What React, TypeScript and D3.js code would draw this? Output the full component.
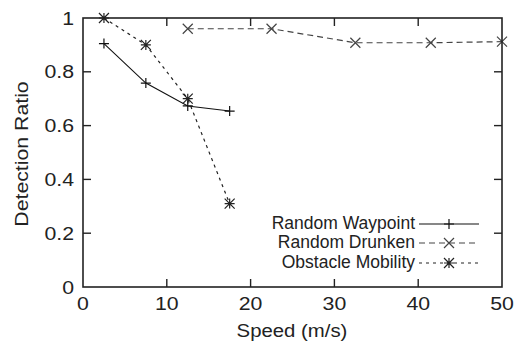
import React from "react";
import * as d3 from "d3";

const waypointX = [2.5, 7.5, 12.5, 17.5];
const waypointY = [0.905, 0.758, 0.673, 0.654];
const drunkenX = [12.5, 22.5, 32.5, 41.5, 50];
const drunkenY = [0.96, 0.96, 0.908, 0.908, 0.912];
const obstacleX = [2.5, 7.5, 12.5, 17.5];
const obstacleY = [1.0, 0.9, 0.7, 0.31];
const xTicks = [0, 10, 20, 30, 40, 50];
const yTicks = [0, 0.2, 0.4, 0.6, 0.8, 1];
const seriesNames = ["Random Waypoint", "Random Drunken", "Obstacle Mobility"];

const W = 516, H = 345;
const L = 83, R = 502, T = 18, B = 287;
const FONT = "Liberation Sans, Arial, Helvetica, sans-serif";

function Marker({ kind, x, y, color }: { kind: string; x: number; y: number; color: string }) {
  const s = 5;
  const plus = `M${x - s},${y}H${x + s}M${x},${y - s}V${y + s}`;
  const cross = `M${x - s},${y - s}L${x + s},${y + s}M${x - s},${y + s}L${x + s},${y - s}`;
  let d = "";
  if (kind === "plus") d = plus;
  else if (kind === "cross") d = cross;
  else d = plus + cross;
  return <path d={d} stroke={color} strokeWidth={1.2} fill="none" />;
}

function T2({ x, y, sx, size, anchor, children }: { x: number; y: number; sx: number; size: number; anchor: string; children: any }) {
  return (
    <text transform={`translate(${x},${y}) scale(${sx},1)`} textAnchor={anchor} fontSize={size} fill="#222">{children}</text>
  );
}

export default function App() {
  const x = d3.scaleLinear().domain([0, 50]).range([L, R]);
  const y = d3.scaleLinear().domain([0, 1]).range([B, T]);
  const line = d3.line<[number, number]>().x(d => x(d[0])).y(d => y(d[1]));

  const series = [
    { name: seriesNames[0], xs: waypointX, ys: waypointY, kind: "plus", color: "#111", dash: "", width: 1.1 },
    { name: seriesNames[1], xs: drunkenX, ys: drunkenY, kind: "cross", color: "#444", dash: "6,4", width: 1.2 },
    { name: seriesNames[2], xs: obstacleX, ys: obstacleY, kind: "star", color: "#222", dash: "3,4", width: 1.2 },
  ];

  const legendY = [224, 243, 263];

  return (
    <svg width={W} height={H} style={{ position: "absolute", left: 0, top: 0, background: "#fff" }} fontFamily={FONT}>
      <rect x={0} y={0} width={W} height={H} fill="#fff" />
      {series.map((s, i) => (
        <g key={i}>
          <path d={line(s.xs.map((v, j) => [v, s.ys[j]] as [number, number])) || ""} fill="none" stroke={s.color} strokeWidth={s.width} strokeDasharray={s.dash} />
          {s.xs.map((v, j) => (
            <Marker key={j} kind={s.kind} x={x(v)} y={y(s.ys[j])} color={s.color} />
          ))}
        </g>
      ))}
      {/* legend */}
      {series.map((s, i) => (
        <g key={"l" + i}>
          <T2 x={415} y={legendY[i] + 4.5} sx={1.0} size={17.5} anchor="end">{s.name}</T2>
          <line x1={419} x2={479} y1={legendY[i]} y2={legendY[i]} stroke={s.color} strokeWidth={s.width} strokeDasharray={s.dash} />
          <Marker kind={s.kind} x={449} y={legendY[i]} color={s.color} />
        </g>
      ))}
      {/* frame */}
      <rect x={L} y={T} width={R - L} height={B - T} fill="none" stroke="#222" strokeWidth={1.6} />
      {xTicks.map((t, i) => (
        <g key={"x" + i}>
          {t > 0 && t < 50 && (
            <>
              <line x1={x(t)} x2={x(t)} y1={B} y2={B - 8} stroke="#222" strokeWidth={1.4} />
              <line x1={x(t)} x2={x(t)} y1={T} y2={T + 8} stroke="#222" strokeWidth={1.4} />
            </>
          )}
          <T2 x={x(t)} y={310} sx={1.15} size={18.5} anchor="middle">{t}</T2>
        </g>
      ))}
      {yTicks.map((t, i) => (
        <g key={"y" + i}>
          {t > 0 && t < 1 && (
            <>
              <line x1={L} x2={L + 8} y1={y(t)} y2={y(t)} stroke="#222" strokeWidth={1.4} />
              <line x1={R} x2={R - 8} y1={y(t)} y2={y(t)} stroke="#222" strokeWidth={1.4} />
            </>
          )}
          <T2 x={74} y={y(t) + 6.5} sx={1.15} size={18.5} anchor="end">{d3.format("")(t)}</T2>
        </g>
      ))}
      <T2 x={292} y={337} sx={1.1} size={18.5} anchor="middle">Speed (m/s)</T2>
      <text transform={`translate(28,154) rotate(-90) scale(1.12,1)`} textAnchor="middle" fontSize={19} fill="#222">Detection Ratio</text>
    </svg>
  );
}
